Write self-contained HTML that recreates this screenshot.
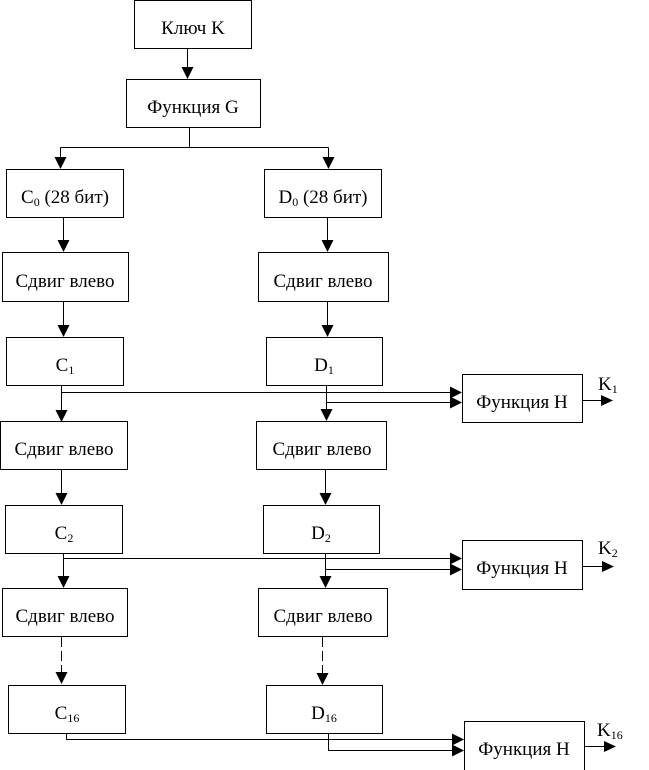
<!DOCTYPE html>
<html><head><meta charset="utf-8"><style>
html,body{margin:0;padding:0;background:#fff;}
svg{display:block;}
text{font-family:"Liberation Serif","DejaVu Serif",serif;font-size:19px;fill:#000;}
</style></head><body>
<svg width="649" height="770" viewBox="0 0 649 770" xmlns="http://www.w3.org/2000/svg">
<g fill="#fff" stroke="#000" stroke-width="1">
<rect x="134.5" y="0.5" width="117" height="48"/>
<rect x="126.5" y="79.5" width="134" height="48"/>
<rect x="6.5" y="169.5" width="117" height="48"/>
<rect x="264.5" y="169.5" width="117" height="48"/>
<rect x="2.5" y="252.5" width="126" height="49"/>
<rect x="258.5" y="252.5" width="130" height="49"/>
<rect x="6.5" y="337.5" width="117" height="48"/>
<rect x="266.5" y="337.5" width="116" height="48"/>
<rect x="0.5" y="421.5" width="127" height="48"/>
<rect x="256.5" y="421.5" width="130" height="48"/>
<rect x="5.5" y="505.5" width="117" height="48"/>
<rect x="263.5" y="505.5" width="116" height="48"/>
<rect x="2.5" y="588.5" width="125" height="48"/>
<rect x="258.5" y="588.5" width="129" height="48"/>
<rect x="8.5" y="685.5" width="117" height="48"/>
<rect x="266.5" y="685.5" width="116" height="48"/>
<rect x="462.5" y="374.5" width="120" height="48"/>
<rect x="462.5" y="540.5" width="120" height="49"/>
<rect x="464.5" y="721.5" width="120" height="52"/>
</g>
<g fill="none" stroke="#000" stroke-width="1">
<path d="M187.5 49V68"/>
<path d="M189.5 128V147.5M60.5 147.5H328.5M60.5 147.5V158M328.5 147.5V158"/>
<path d="M63.5 218V241M63.5 302V326"/>
<path d="M327.5 218V241M327.5 302V326"/>
<path d="M61.5 386V410M61.5 392.5H451"/>
<path d="M326.5 386V409M326.5 402.5H451"/>
<path d="M61.5 470V494M325.5 470V494"/>
<path d="M63.5 554V577M63.5 558.5H451"/>
<path d="M325.5 554V577M325.5 569.5H451"/>
<path d="M61.5 637V673M322.5 637V674" stroke-dasharray="10,4"/>
<path d="M66.5 734V739.5H453"/>
<path d="M328.5 734V750.5H453"/>
<path d="M583 400.5H602M583 566.5H603M585 746.5H605"/>
</g>
<g fill="#000">
<polygon points="181.5,67 193.5,67 187.5,79"/>
<polygon points="54.5,157 66.5,157 60.5,169"/>
<polygon points="322.5,157 334.5,157 328.5,169"/>
<polygon points="57.5,240 69.5,240 63.5,252"/>
<polygon points="57.5,325 69.5,325 63.5,337"/>
<polygon points="321.5,240 333.5,240 327.5,252"/>
<polygon points="321.5,325 333.5,325 327.5,337"/>
<polygon points="55.5,410 67.5,410 61.5,422"/>
<polygon points="320.5,409 332.5,409 326.5,421"/>
<polygon points="55.5,493 67.5,493 61.5,505"/>
<polygon points="319.5,493 331.5,493 325.5,505"/>
<polygon points="57.5,576 69.5,576 63.5,588"/>
<polygon points="319.5,576 331.5,576 325.5,588"/>
<polygon points="55.5,672 67.5,672 61.5,684"/>
<polygon points="316.5,673 328.5,673 322.5,685"/>
<polygon points="450,386.5 450,398.5 462,392.5"/>
<polygon points="450,396.5 450,408.5 462,402.5"/>
<polygon points="450,552.5 450,564.5 462,558.5"/>
<polygon points="450,563.5 450,575.5 462,569.5"/>
<polygon points="452,733.5 452,745.5 464,739.5"/>
<polygon points="452,744.5 452,756.5 464,750.5"/>
<polygon points="601,395 601,406 613,400.5"/>
<polygon points="602,561 602,572 614,566.5"/>
<polygon points="604,741 604,752 616,746.5"/>
</g>
<g text-anchor="middle">
<text x="193" y="34">Ключ K</text>
<text x="193" y="113">Функция G</text>
<text x="65" y="203">C<tspan font-size="12" dy="3">0</tspan><tspan dy="-3"> (28 бит)</tspan></text>
<text x="323" y="203">D<tspan font-size="12" dy="3">0</tspan><tspan dy="-3"> (28 бит)</tspan></text>
<text x="65" y="287">Сдвиг влево</text>
<text x="323" y="287">Сдвиг влево</text>
<text x="65" y="371">C<tspan font-size="12" dy="3">1</tspan></text>
<text x="324" y="371">D<tspan font-size="12" dy="3">1</tspan></text>
<text x="64" y="455">Сдвиг влево</text>
<text x="322" y="455">Сдвиг влево</text>
<text x="64" y="539">C<tspan font-size="12" dy="3">2</tspan></text>
<text x="321" y="539">D<tspan font-size="12" dy="3">2</tspan></text>
<text x="65" y="622">Сдвиг влево</text>
<text x="323" y="622">Сдвиг влево</text>
<text x="67" y="719">C<tspan font-size="12" dy="3">16</tspan></text>
<text x="324" y="719">D<tspan font-size="12" dy="3">16</tspan></text>
<text x="522" y="408">Функция H</text>
<text x="522" y="574">Функция H</text>
<text x="524" y="755">Функция H</text>
</g>
<text x="598" y="390">K<tspan font-size="12" dy="3">1</tspan></text>
<text x="598" y="554">K<tspan font-size="12" dy="3">2</tspan></text>
<text x="597" y="736">K<tspan font-size="12" dy="3">16</tspan></text>
</svg>
</body></html>
